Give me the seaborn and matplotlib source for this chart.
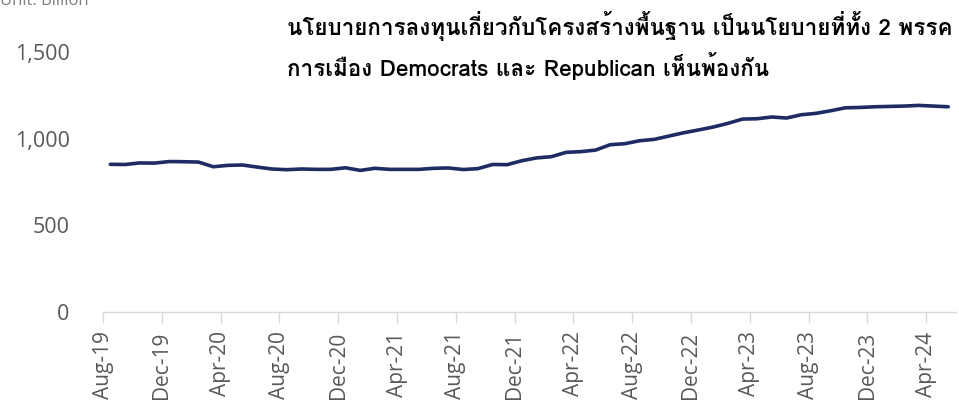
import matplotlib
matplotlib.use("Agg")
import matplotlib.pyplot as plt
from matplotlib import font_manager
import seaborn as sns
import pandas as pd
import numpy as np

# Monthly series, Aug-2019 .. May-2024 (billion)
months = pd.date_range("2019-08-01", "2024-05-01", freq="MS")
values = [852, 851, 860, 859, 868, 867, 865, 838, 846, 848,
          836, 825, 821, 825, 823, 823, 832, 817, 829, 823,
          823, 823, 829, 831, 822, 827, 851, 850, 873, 889,
          896, 921, 925, 934, 965, 971, 988, 996, 1015, 1034,
          1050, 1067, 1088, 1113, 1115, 1125, 1119, 1138, 1146, 1161,
          1178, 1180, 1184, 1186, 1188, 1192, 1188, 1184]
y_ticks = [0, 500, 1000, 1500]
title_lines = ["นโยบายการลงทุนเกี่ยวกับโครงสร้างพื้นฐาน เป็นนโยบายที่ทั้ง 2 พรรค",
               "การเมือง Democrats และ Republican เห็นพ้องกัน"]
unit_text = "Unit: Billion"


def find_thai_family():
    try:
        from fontTools.ttLib import TTFont
    except Exception:
        return None
    for f in font_manager.fontManager.ttflist:
        try:
            cmap = TTFont(f.fname, fontNumber=0, lazy=True).getBestCmap()
        except Exception:
            continue
        if cmap and 0x0E19 in cmap:
            return f.name
    return None


sns.set_theme(style="white")
plt.rcParams["font.family"] = ["Open Sans", "DejaVu Sans"]
thai = find_thai_family()
title_family = [thai, "Open Sans", "DejaVu Sans"] if thai else ["DejaVu Sans"]

df = pd.DataFrame({"idx": np.arange(len(values)), "value": values})
labels = [m.strftime("%b-%y") for m in months]

fig = plt.figure(figsize=(9.59, 4.08), dpi=100)
W, H = 959, 408
ax = fig.add_axes([103 / W, (H - 312) / H, (955.6 - 103) / W, (312 - 52) / H])

sns.lineplot(data=df, x="idx", y="value", ax=ax, color="#1f2c64",
             linewidth=2.6, clip_on=False)

ax.set_xlim(-0.5, len(values) - 0.5)
ax.set_ylim(0, 1500)
ax.set_yticks(y_ticks)
ax.set_yticklabels([f"{v:,}" for v in y_ticks])

# category-boundary ticks every 4 months
tick_pos = np.arange(0, len(values), 4) - 0.5
ax.set_xticks(tick_pos)
ax.set_xticklabels([labels[i] for i in range(0, len(values), 4)],
                   rotation=90)
ax.tick_params(axis="x", length=8, width=1, color="#d9d9d9", pad=6,
               labelsize=15, labelcolor="#595959", bottom=True)
ax.tick_params(axis="y", length=0, pad=24, labelsize=15.5, labelcolor="#595959")

ax.set_xlabel("")
ax.set_ylabel("")
for side in ["top", "right", "left"]:
    ax.spines[side].set_visible(False)
ax.spines["bottom"].set_color("#d9d9d9")
ax.spines["bottom"].set_linewidth(1)
ax.grid(False)

fig.text(0.0, 1 - 5 / H, unit_text, fontsize=12, color="#7f7f7f",
         ha="left", va="baseline")

# title: two lines, sized so the first line spans up to the right edge
title_x, title_w = 287, 666
texts = []
for i, base in enumerate([35, 76]):
    texts.append(fig.text(title_x / W, 1 - base / H, title_lines[i],
                          fontsize=17, fontweight="bold", color="#000000",
                          ha="left", va="baseline", family=title_family))
renderer = fig.canvas.get_renderer()
w0 = texts[0].get_window_extent(renderer).width
size = min(17.0, 17.0 * title_w / w0)
for t in texts:
    t.set_fontsize(size)

fig.savefig("out.png", dpi=100)
